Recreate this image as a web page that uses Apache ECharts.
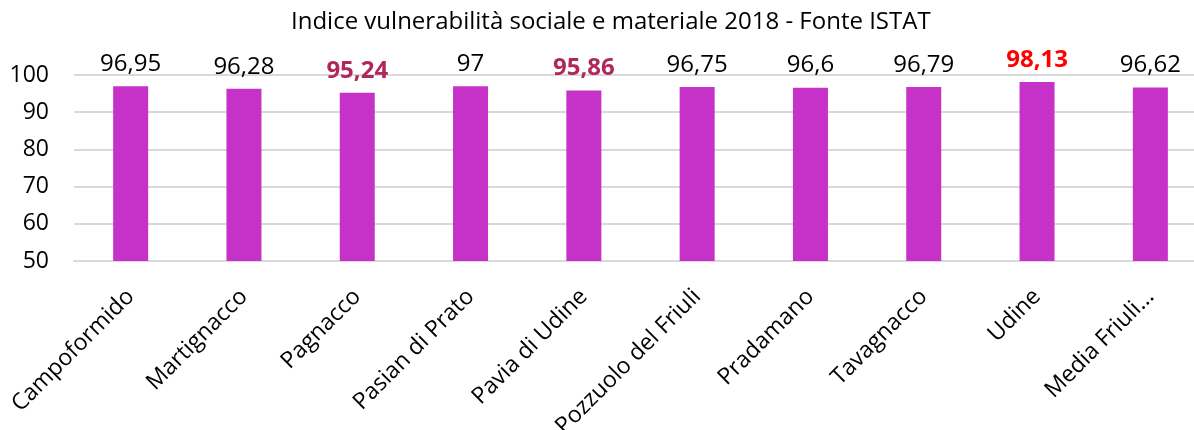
<!DOCTYPE html>
<html>
<head>
<meta charset="utf-8">
<script src="https://cdn.jsdelivr.net/npm/echarts@6/dist/echarts.min.js"></script>
<style>
  html, body { margin: 0; padding: 0; background: #fff; }
  #chart { width: 1194px; height: 430px; }
</style>
</head>
<body>
<div id="chart"></div>
<script>
const titleText = "Indice vulnerabilità sociale e materiale 2018 - Fonte ISTAT";
const comuni = ["Campoformido", "Martignacco", "Pagnacco", "Pasian di Prato", "Pavia di Udine",
  "Pozzuolo del Friuli", "Pradamano", "Tavagnacco", "Udine", "Media Friuli..."];
const indice = [96.95, 96.28, 95.24, 97, 95.86, 96.75, 96.6, 96.79, 98.13, 96.62];
const evidenziaScuro = ["Pagnacco", "Pavia di Udine"];
const evidenziaRosso = ["Udine"];

const font = "'Open Sans', sans-serif";

const chart = echarts.init(document.getElementById("chart"));

const seriesData = indice.map((v, i) => {
  const name = comuni[i];
  let label = {};
  if (evidenziaScuro.indexOf(name) >= 0) {
    label = { color: "#b0285a", fontWeight: "bold" };
  } else if (evidenziaRosso.indexOf(name) >= 0) {
    label = { color: "#ff0000", fontWeight: "bold" };
  }
  return { value: v, label: label };
});

chart.setOption({
  animation: false,
  title: {
    text: titleText,
    left: 286,
    top: 5,
    textStyle: { fontFamily: font, fontSize: 24, fontWeight: "normal", color: "#000" }
  },
  grid: {
    left: 74,
    width: 1133,
    top: 75,
    bottom: 169,
    containLabel: false,
    outerBoundsMode: "none"
  },
  xAxis: {
    type: "category",
    data: comuni,
    axisTick: { show: false },
    axisLine: { lineStyle: { color: "#d9d9d9", width: 2 } },
    axisLabel: {
      rotate: 45,
      interval: 0,
      margin: 32,
      fontFamily: font,
      fontSize: 23,
      color: "#000"
    }
  },
  yAxis: {
    type: "value",
    min: 50,
    max: 100,
    interval: 10,
    axisLine: { show: false },
    axisTick: { show: false },
    splitLine: { lineStyle: { color: "#d9d9d9", width: 2 } },
    axisLabel: {
      margin: 25,
      fontFamily: font,
      fontSize: 23,
      color: "#000"
    }
  },
  series: [
    {
      type: "bar",
      data: seriesData,
      barWidth: 35,
      itemStyle: { color: "#c631c8" },
      label: {
        show: true,
        position: "top",
        distance: 10,
        fontFamily: font,
        fontSize: 24,
        color: "#000",
        formatter: p => String(p.value).replace(".", ",")
      }
    }
  ]
});
</script>
</body>
</html>
